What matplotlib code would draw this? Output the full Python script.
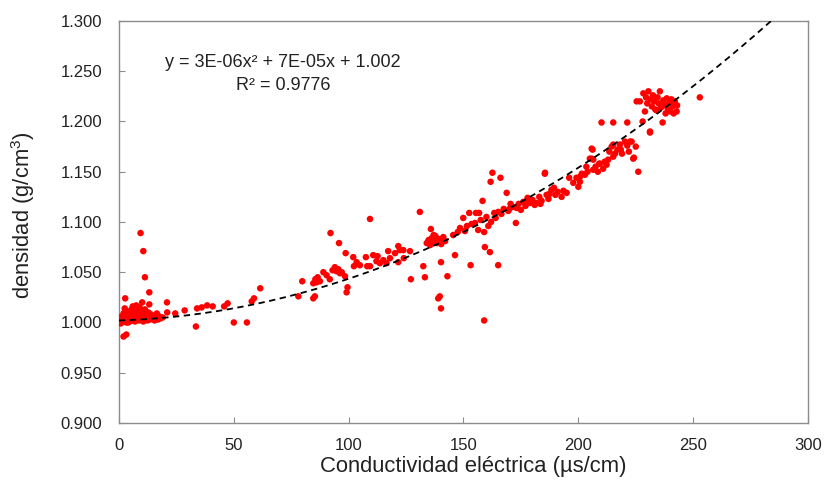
import matplotlib
matplotlib.use('Agg')
import matplotlib.pyplot as plt
import numpy as np

plt.rcParams['font.family'] = ['Liberation Sans', 'DejaVu Sans']
plt.rcParams['mathtext.fontset'] = 'custom'
plt.rcParams['mathtext.rm'] = 'Liberation Sans'

# low conductivity cluster (0 - 62 uS/cm)
cond_low = [0.5, 1.0, 1.2, 1.8, 2.0, 2.3, 2.7, 3.0, 3.2, 3.5, 3.8, 4.0, 4.3, 4.6, 5.0, 5.2,
            5.5, 5.8, 6.0, 6.3, 6.6, 7.0, 7.3, 7.6, 8.0, 8.2, 8.5, 8.8, 9.0, 9.3, 9.6, 10.0,
            10.3, 10.6, 11.0, 11.3, 11.6, 12.0, 12.4, 12.8, 13.2, 13.6, 14.0, 14.5, 15.0, 15.5,
            16.0, 16.5, 17.0, 17.5, 18.0, 19.0, 2.5, 2.7, 2.0, 3.2, 9.4, 10.6, 11.3, 13.2,
            10.1, 13.2, 20.9, 21.0, 24.5, 28.6, 33.5, 34.0, 36.0, 38.4, 40.8, 45.8, 47.3, 50.0,
            55.7, 57.8, 58.8, 61.5, 7.5, 6.0, 4.0, 0.8]
dens_low = [1.003, 1.001, 1.006, 1.004, 1.009, 1.002, 1.012, 1.005, 1.000, 1.008, 1.003, 1.011,
            1.006, 1.001, 1.004, 1.009, 1.013, 1.002, 1.007, 1.004, 1.010, 1.001, 1.006, 1.003,
            1.008, 1.012, 1.005, 1.002, 1.015, 1.007, 1.003, 1.010, 1.005, 1.001, 1.008, 1.013,
            1.004, 1.007, 1.002, 1.010, 1.005, 1.003, 1.008, 1.004, 1.006, 1.002, 1.005, 1.009,
            1.003, 1.006, 1.004, 1.005, 1.014, 1.024, 0.986, 0.988, 1.089, 1.071, 1.045, 1.030,
            1.020, 1.018, 1.020, 1.010, 1.009, 1.012, 0.996, 1.014, 1.015, 1.017, 1.016, 1.016,
            1.019, 1.000, 1.000, 1.021, 1.024, 1.034, 1.017, 1.016, 1.000, 0.999]

# middle range (78 - 133 uS/cm)
cond_mid = [78.1, 79.8, 84.6, 85.3, 84.6, 85.5, 86.5, 87.5, 86.0, 89.0, 90.4, 91.8, 94.0, 94.7,
            96.2, 98.4, 92.1, 95.8, 98.7, 99.5, 99.1, 102.0, 102.3, 103.5, 104.9, 107.5, 108.1,
            109.3, 109.3, 110.7, 112.1, 112.6, 113.6, 115.1, 116.5, 117.2, 118.0, 120.2, 121.6,
            122.3, 121.6, 123.8, 124.0, 126.7, 127.1, 131.0, 132.5, 133.2, 93.0, 95.5, 97.0]
dens_mid = [1.026, 1.041, 1.024, 1.026, 1.039, 1.043, 1.045, 1.041, 1.040, 1.050, 1.047, 1.043,
            1.055, 1.051, 1.049, 1.046, 1.089, 1.079, 1.069, 1.035, 1.030, 1.065, 1.056, 1.060,
            1.057, 1.065, 1.056, 1.103, 1.056, 1.067, 1.061, 1.066, 1.059, 1.062, 1.059, 1.071,
            1.064, 1.069, 1.076, 1.072, 1.060, 1.072, 1.064, 1.071, 1.043, 1.110, 1.056, 1.045,
            1.052, 1.053, 1.050]

# 134 - 166 uS/cm
cond_c = [134.0, 134.8, 135.5, 136.2, 137.0, 137.8, 138.5, 139.0, 139.7, 140.3, 141.2, 142.0,
          135.8, 137.0, 139.0, 140.2, 140.2, 143.0, 145.5, 146.3, 139.7, 149.9, 150.6, 152.5,
          153.1, 155.4, 156.8, 155.0, 156.4, 158.3, 159.0, 159.3, 161.5, 159.0, 161.8, 162.6,
          166.1, 165.1, 163.4, 165.1, 160.8, 162.0, 164.0, 147.5, 148.5, 151.5, 153.5, 157.5,
          160.0]
dens_c = [1.079, 1.082, 1.077, 1.084, 1.080, 1.086, 1.079, 1.083, 1.082, 1.078, 1.085, 1.081,
          1.093, 1.087, 1.024, 1.014, 1.060, 1.046, 1.087, 1.067, 1.026, 1.104, 1.091, 1.109,
          1.057, 1.109, 1.109, 1.099, 1.092, 1.121, 1.090, 1.075, 1.070, 1.002, 1.140, 1.149,
          1.144, 1.057, 1.109, 1.110, 1.096, 1.100, 1.104, 1.090, 1.094, 1.096, 1.098, 1.102,
          1.105]

# 166 - 200 uS/cm
cond_d = [166.5, 167.5, 168.8, 169.5, 170.5, 171.5, 172.8, 173.1, 174.0, 175.0, 176.0, 177.0,
          177.9, 179.0, 180.0, 181.0, 181.8, 183.0, 184.0, 185.4, 185.5, 186.2, 187.0, 188.3,
          189.4, 190.0, 191.0, 192.7, 193.5, 194.9, 196.0, 197.8, 199.2, 200.0, 170.0, 178.5,
          183.5, 187.5]
dens_d = [1.108, 1.113, 1.129, 1.111, 1.118, 1.115, 1.099, 1.114, 1.118, 1.112, 1.120, 1.116,
          1.124, 1.119, 1.122, 1.117, 1.119, 1.125, 1.121, 1.148, 1.149, 1.127, 1.123, 1.132,
          1.134, 1.127, 1.130, 1.125, 1.131, 1.129, 1.144, 1.139, 1.144, 1.135, 1.113, 1.121,
          1.118, 1.128]

# 200 - 226 uS/cm
cond_e = [200.7, 200.7, 201.5, 202.9, 204.0, 205.0, 205.8, 205.8, 206.2, 206.5, 206.5, 207.5,
          208.5, 209.1, 209.4, 210.1, 210.8, 211.5, 212.3, 213.0, 213.5, 214.5, 215.2, 215.2,
          215.2, 216.0, 217.0, 218.1, 219.0, 220.3, 221.3, 221.3, 222.0, 222.5, 223.2, 223.9,
          224.2, 225.0, 226.1, 203.5, 218.5]
dens_e = [1.140, 1.145, 1.148, 1.147, 1.150, 1.163, 1.173, 1.163, 1.172, 1.152, 1.162, 1.155,
          1.150, 1.158, 1.158, 1.199, 1.153, 1.160, 1.157, 1.162, 1.170, 1.175, 1.165, 1.177,
          1.199, 1.168, 1.172, 1.177, 1.168, 1.180, 1.176, 1.199, 1.170, 1.180, 1.180, 1.163,
          1.164, 1.175, 1.150, 1.155, 1.172]

# high cluster (225 - 253 uS/cm)
cond_f = [225.4, 226.8, 228.3, 229.0, 229.5, 230.0, 230.5, 231.2, 231.5, 232.0, 232.5, 233.0,
          233.5, 234.1, 234.5, 235.0, 235.5, 236.0, 236.7, 237.0, 237.5, 238.0, 238.5, 239.0,
          239.5, 240.0, 240.5, 241.0, 241.5, 242.0, 242.8, 243.0, 252.9, 228.0, 231.2]
dens_f = [1.220, 1.220, 1.228, 1.210, 1.224, 1.218, 1.230, 1.190, 1.222, 1.215, 1.226, 1.220,
          1.212, 1.211, 1.224, 1.218, 1.230, 1.214, 1.199, 1.221, 1.216, 1.208, 1.223, 1.212,
          1.218, 1.210, 1.222, 1.215, 1.208, 1.220, 1.210, 1.216, 1.224, 1.200, 1.189]

# polynomial trend line as drawn in the chart
trend_coef = [3.45e-6, 7e-5, 1.002]

x_ticks = [0, 50, 100, 150, 200, 250, 300]
y_ticks = [0.900, 0.950, 1.000, 1.050, 1.100, 1.150, 1.200, 1.250, 1.300]

cond = np.concatenate([cond_low, cond_mid, cond_c, cond_d, cond_e, cond_f])
dens = np.concatenate([dens_low, dens_mid, dens_c, dens_d, dens_e, dens_f])

fig = plt.figure(figsize=(8.25, 4.8), dpi=100)
ax = fig.add_axes([0.1442, 0.1188, 0.8352, 0.8375])

ax.scatter(cond, dens, s=22, color='#ff0000', edgecolors='none', zorder=3)

xt = np.linspace(0, 300, 300)
ax.plot(xt, np.polyval(trend_coef, xt), color='black', linestyle=(0, (3.5, 2.5)),
        linewidth=1.3, zorder=4)

ax.set_xlim(0, 300)
ax.set_ylim(0.9, 1.3)
ax.set_xticks(x_ticks)
ax.set_yticks(y_ticks)
ax.set_yticklabels(['%.3f' % v for v in y_ticks])

for sp in ax.spines.values():
    sp.set_color('#8c8c8c')
    sp.set_linewidth(1.0)
ax.tick_params(direction='in', length=4, color='#8c8c8c', labelsize=12, labelcolor='#222222')
ax.tick_params(axis='x', pad=11)
ax.tick_params(axis='y', pad=12)

ax.set_xlabel('Conductividad eléctrica (µs/cm)', fontsize=15.8, color='#222222')
ax.xaxis.set_label_coords(0.514, -0.082)
ax.set_ylabel('densidad (g/cm$^3$)', fontsize=15.8, color='#222222')
ax.yaxis.set_label_coords(-0.119, 0.517)

# trend line equation, as Excel prints it
ax.text(71.4, 1.259, 'y = 3E-06x² + 7E-05x + 1.002', ha='center', va='center',
        fontsize=13, color='#222222')
ax.text(71.4, 1.236, 'R² = 0.9776', ha='center', va='center',
        fontsize=13, color='#222222')

fig.savefig('out.png', dpi=100)
plt.close(fig)
